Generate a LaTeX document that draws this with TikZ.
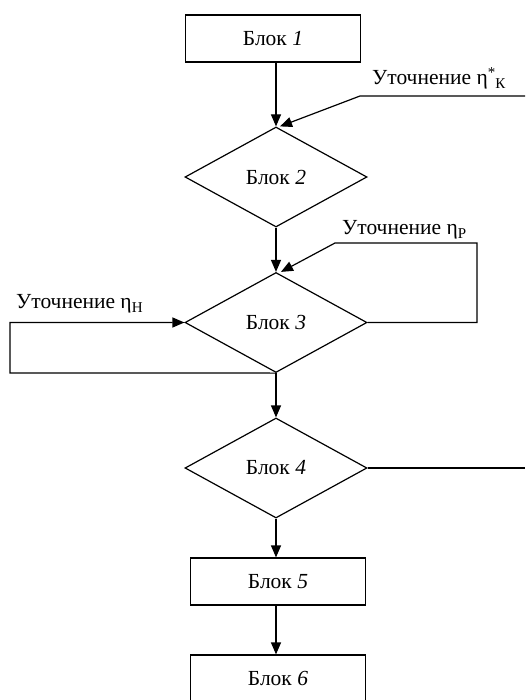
\documentclass[tikz,border=0pt]{standalone}
\usepackage{fontspec}
\setmainfont{Liberation Serif}
\usepackage{tikz}
\usetikzlibrary{
  arrows.meta,
  calc,
  positioning,
  shapes.geometric
}
\newcommand{\lowidx}[1]{\raisebox{-4pt}{\fontsize{15}{15}\selectfont #1}}
\newcommand{\highidx}[1]{\raisebox{7pt}{\fontsize{15}{15}\selectfont #1}}

\tikzset{
  blockbox/.style={draw, line width=1.2pt, minimum width=175pt, minimum height=47pt, inner sep=0pt},
  decbox/.style={draw, diamond, aspect=1.8, line width=1.2pt, minimum width=182pt, minimum height=100pt, inner sep=0pt},
  flow/.style={line width=1.2pt, -{Triangle[length=12pt,width=10pt]}},
  plain/.style={line width=1.2pt},
  refine/.style={anchor=base west, inner sep=0pt}
}

\begin{document}
\begin{tikzpicture}[x=1pt, y=-1pt, font=\fontsize{21.5}{26}\selectfont]
  \useasboundingbox (0,0) rectangle (525,700);
  \clip (0,0) rectangle (525,700);
  % Blocks
  \node[blockbox] (b1) at (273,38.5) {Блок \textit{1}};
  \node[decbox] (d2) at (276,177) {Блок \textit{2}};
  \node[decbox] (d3) at (276,322.5) {Блок \textit{3}};
  \node[decbox] (d4) at (276,468) {Блок \textit{4}};
  \node[blockbox] (b5) at (278,581.5) {Блок \textit{5}};
  \node[blockbox] (b6) at (278,678.5) {Блок \textit{6}};
  % Main flow
  \draw[flow] (b1.south -| d2.north) -- (d2.north);
  \draw[flow] (d2.south) -- (d3.north);
  \draw[flow] (d3.south) -- (d4.north);
  \draw[flow] (d4.south) -- (d4.south |- b5.north);
  \draw[flow] (b5.south -| d4.south) -- (d4.south |- b6.north);
  % Refinement loops
  \coordinate (kR) at (525,96);
  \coordinate (kL) at (360,96);
  \draw[flow] (kR) -- (kL) -- ($(d2.north)+(4,0)$);
  \coordinate (pR) at (477,322.5);
  \coordinate (pT) at (477,243);
  \coordinate (pL) at (335,243);
  \draw[flow] (d3.east) -- (pR) -- (pT) -- (pL) -- ($(d3.north)+(5,0)$);
  \coordinate (hB) at (10,373);
  \coordinate (hT) at (10,322.5);
  \draw[flow] (d3.south) -- (hB) -- (hT) -- (d3.west);
  \coordinate (oR) at (525,468);
  \draw[plain] (d4.east) -- (oR);
  % Labels
  \node[refine] (lk) at (372,85) {Уточнение η\highidx{*}\lowidx{К}};
  \node[refine] (lp) at (342,235) {Уточнение η\lowidx{Р}};
  \node[refine] (lh) at (16,308) {Уточнение η\lowidx{Н}};
\end{tikzpicture}
\end{document}
